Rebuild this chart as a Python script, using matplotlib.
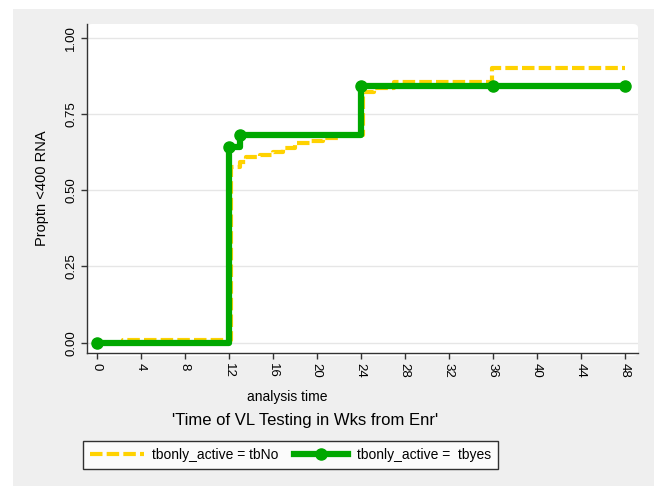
import matplotlib
matplotlib.use("Agg")
import matplotlib.pyplot as plt
from matplotlib.patches import Rectangle, FancyBboxPatch

# Proportion <400 RNA by analysis time (weeks)
weeks_no = [0, 2.4, 12.2, 13.0, 13.6, 14.8, 16.0, 16.9, 18.0, 19.4, 20.6, 22.0, 24.2, 25.2, 27.0, 35.9, 48]
prop_no = [0, 0.007, 0.577, 0.593, 0.61, 0.615, 0.626, 0.637, 0.654, 0.662, 0.67, 0.68, 0.823, 0.835, 0.854, 0.90, 0.90]

weeks_yes = [0, 12, 13, 24, 36, 48]
prop_yes = [0, 0.643, 0.68, 0.843, 0.843, 0.843]

x_ticks = list(range(0, 49, 4))
y_ticks = [0, 0.25, 0.5, 0.75, 1.0]
y_ticklabels = ["0.00", "0.25", "0.50", "0.75", "1.00"]

plt.rcParams['font.family'] = ['Liberation Sans', 'DejaVu Sans']

W, H = 654, 486
fig = plt.figure(figsize=(W / 100, H / 100), dpi=100, facecolor='white')
fig.patches.append(Rectangle((13 / W, 0), 1 - 13 / W, 1 - 9 / H, transform=fig.transFigure,
                             facecolor='#efefef', edgecolor='none', zorder=-10))
# white plot region with rounded corners
fig.patches.append(FancyBboxPatch((87 / W, 1 - 356 / H), (638 - 87) / W, (356 - 24) / H,
                                  boxstyle='round,pad=0,rounding_size=0.008',
                                  transform=fig.transFigure, facecolor='white',
                                  edgecolor='none', zorder=-9))

ax = fig.add_axes([87 / W, 1 - 353 / H, (638 - 87) / W, (353 - 24) / H])
ax.patch.set_alpha(0)

yellow = '#ffd200'
green = '#00a800'

ax.plot(weeks_no, prop_no, drawstyle='steps-post', color=yellow, lw=3,
        dashes=(3, 1), label='tbonly_active = tbNo', zorder=3)
ax.plot(weeks_yes, prop_yes, drawstyle='steps-post', color=green, lw=4.5,
        marker='o', markersize=8, label='tbonly_active =  tbyes', zorder=4)

ax.set_xlim(-0.88, 49.2)
ax.set_ylim(-0.034, 1.045)
ax.set_xticks(x_ticks)
ax.set_xticklabels([str(t) for t in x_ticks], rotation=270, fontsize=9.5)
ax.set_yticks(y_ticks)
ax.set_yticklabels(y_ticklabels, rotation=90, va='center', fontsize=9.5)
ax.grid(axis='y', color='#e6e6e6', lw=1)
ax.set_axisbelow(True)

for s in ['top', 'right']:
    ax.spines[s].set_visible(False)
for s in ['left', 'bottom']:
    ax.spines[s].set_color('#333333')
    ax.spines[s].set_linewidth(1)
ax.tick_params(direction='out', length=4, width=1, color='#333333', pad=3)

ax.set_ylabel('Proptn <400 RNA', fontsize=10.5, labelpad=12)
fig.text(287 / W, 1 - 397 / H, 'analysis time', ha='center', va='center', fontsize=10)
fig.text(305 / W, 1 - 420 / H, "'Time of VL Testing in Wks from Enr'", ha='center', va='center', fontsize=12)

leg = fig.legend(loc='center left', bbox_to_anchor=(83 / W, 1 - 455 / H), ncol=2,
                 fontsize=10, frameon=True, fancybox=False, handlelength=3.9,
                 numpoints=1, columnspacing=1.1, borderpad=0.5, handletextpad=0.6,
                 borderaxespad=0)
leg.get_frame().set_edgecolor('black')
leg.get_frame().set_linewidth(1)

fig.savefig('out.png', dpi=100)
